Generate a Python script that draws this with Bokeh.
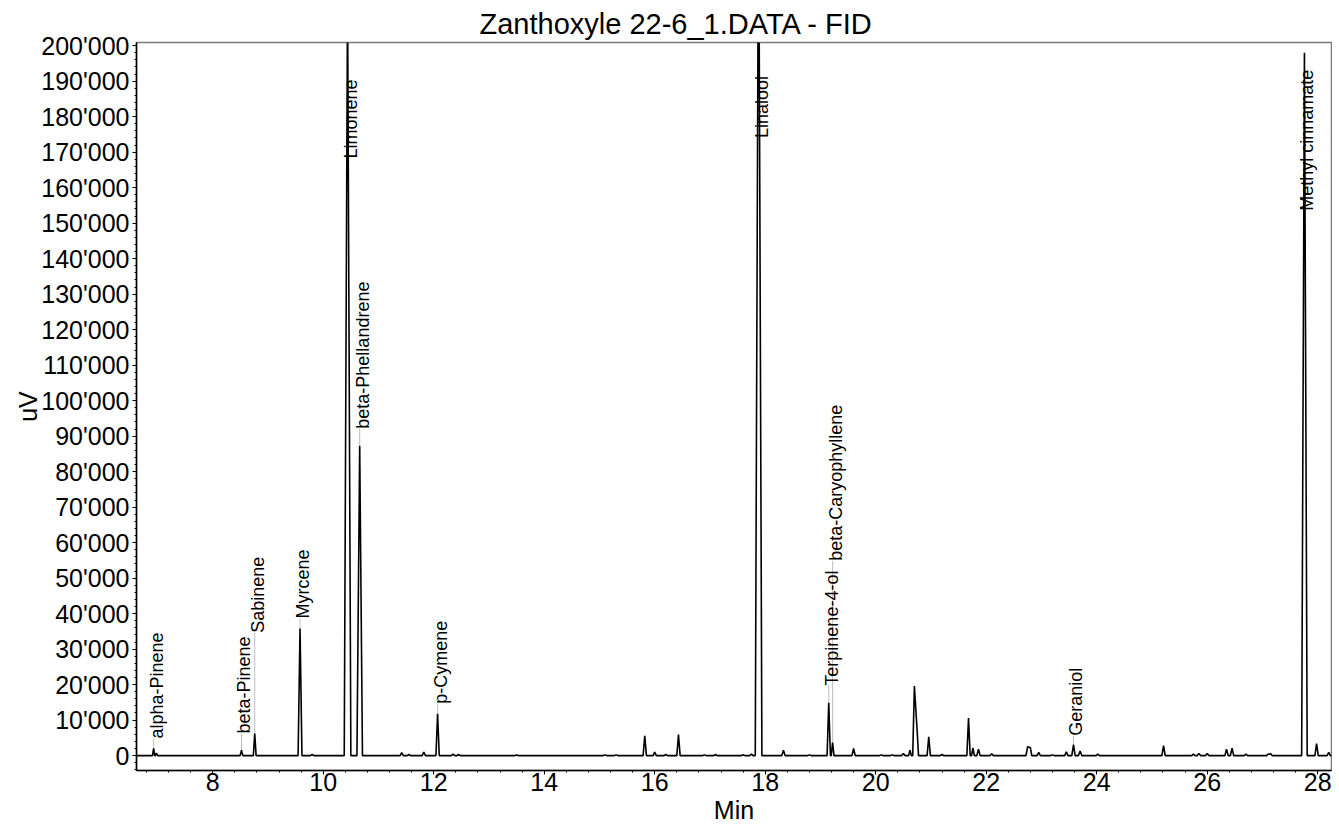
import math
from bokeh.plotting import figure
from bokeh.models import Range1d, SingleIntervalTicker, CustomJSTickFormatter, ColumnDataSource
from bokeh.core.properties import value
from bokeh.embed import file_html
from bokeh.resources import INLINE

# ---- data ----
# peak retention times (min), apex heights (uV), half base widths (min)
peak_rt = [6.93, 6.98, 8.52, 8.76, 9.58, 9.80, 10.44, 10.66, 11.42, 11.55, 11.82, 12.07,
           12.35, 12.45, 13.50, 15.10, 15.30, 15.82, 16.00, 16.20, 16.43, 16.90, 17.10,
           17.60, 17.75, 17.88, 18.33, 18.80, 19.15, 19.22, 19.60, 20.10, 20.30, 20.50,
           20.62, 20.70, 20.75, 20.96, 21.20, 21.68, 21.76, 21.86, 22.10, 22.75, 22.80,
           22.95, 23.20, 23.45, 23.58, 23.70, 24.02, 25.21, 25.75, 25.85, 26.00, 26.35,
           26.45, 26.70, 27.10, 27.15, 27.76, 27.98, 28.20]
peak_h = [2000, 700, 1500, 6200, 35800, 300, 215000, 87300, 800, 300, 1000, 11800,
          400, 300, 150, 200, 200, 5600, 1000, 300, 5900, 200, 300,
          250, 400, 250000, 1500, 200, 14900, 3700, 2000, 200, 200, 600,
          1500, 19600, 7000, 5300, 300, 10600, 2200, 1800, 500, 2500, 2200,
          900, 200, 1100, 3100, 1300, 400, 2800, 400, 600, 600, 1800,
          2100, 400, 400, 500, 198000, 3400, 900]
peak_w = [0.02, 0.02, 0.025, 0.025, 0.035, 0.03, 0.06, 0.05, 0.03, 0.03, 0.03, 0.03,
          0.03, 0.03, 0.03, 0.03, 0.03, 0.03, 0.03, 0.03, 0.03, 0.03, 0.03,
          0.03, 0.03, 0.06, 0.03, 0.03, 0.03, 0.025, 0.03, 0.03, 0.03, 0.03,
          0.025, 0.03, 0.025, 0.03, 0.03, 0.03, 0.025, 0.03, 0.03, 0.03, 0.025,
          0.03, 0.03, 0.03, 0.03, 0.03, 0.03, 0.03, 0.03, 0.03, 0.03, 0.03,
          0.03, 0.03, 0.025, 0.025, 0.05, 0.03, 0.03]

# labelled compounds
label_names = ["alpha-Pinene", "beta-Pinene", "Sabinene", "Myrcene", "Limonene",
               "beta-Phellandrene", "p-Cymene", "Linalool", "Terpinene-4-ol",
               "beta-Caryophyllene", "Geraniol", "Methyl cinnamate"]
label_rt = [6.93, 8.52, 8.76, 9.58, 10.44, 10.66, 12.07, 17.88, 19.15, 19.22, 23.58, 27.76]
label_base = [4800, 6200, 34600, 38600, 168200, 92100, 14600, 174000, 19700, 54900, 5600, 153500]
leader_lo = [2000, 1500, 6200, 35800, 193800, 87300, 11800, 193800, 14900, 3700, 3100, 193000]
leader_hi = [4800, 6200, 34600, 38600, 201000, 92100, 14600, 201000, 19700, 54900, 5600, 198000]

x_start, x_end = 6.62, 28.25
y_start, y_end = -4200, 200900

# ---- build the trace polyline from the read peaks ----
order = sorted(range(len(peak_rt)), key=lambda i: peak_rt[i])
verts = [(x_start, 0.0)]
prev_right = None
for i in order:
    rt, h, w = peak_rt[i], peak_h[i], peak_w[i]
    left, right = rt - w, rt + w
    if prev_right is not None and left <= prev_right[0]:
        verts.pop()  # shoulder: drop previous right base
    else:
        verts.append((left, 0.0))
    verts.append((rt, h))
    verts.append((right, 0.0))
    prev_right = (right, 0.0)
verts.append((x_end, 0.0))
trace_t = [v[0] for v in verts]
trace_uv = [v[1] for v in verts]

FONT = "Liberation Sans"

p = figure(width=1332, height=828, output_backend="svg", toolbar_location=None,
           x_range=Range1d(x_start, x_end), y_range=Range1d(y_start, y_end),
           title="Zanthoxyle 22-6_1.DATA - FID",
           min_border_left=136, min_border_right=1, min_border_top=42, min_border_bottom=58)

p.title.align = "left"
p.title.offset = 343
p.title.text_font = FONT
p.title.text_font_size = "29px"
p.title.text_font_style = "normal"
p.title.text_color = "black"
p.title.standoff = 5

p.outline_line_color = "#7a7a7a"
p.outline_line_width = 1.5
p.xgrid.visible = False
p.ygrid.visible = False

p.xaxis.ticker = SingleIntervalTicker(interval=2, num_minor_ticks=5)
p.yaxis.ticker = SingleIntervalTicker(interval=10000, num_minor_ticks=5)
p.yaxis.formatter = CustomJSTickFormatter(code="""
    return Math.round(tick).toString().replace(/\\B(?=(\\d{3})+(?!\\d))/g, "'");
""")
for ax in (p.xaxis[0], p.yaxis[0]):
    ax.axis_line_color = "black"
    ax.axis_line_width = 1.5
    ax.major_tick_line_color = "black"
    ax.minor_tick_line_color = "black"
    ax.major_tick_in = 0
    ax.major_tick_out = 4
    ax.minor_tick_in = 0
    ax.minor_tick_out = 2
    ax.major_label_text_font = FONT
    ax.major_label_text_font_size = "25px"
    ax.major_label_text_color = "black"
    ax.axis_label_text_font = FONT
    ax.axis_label_text_font_size = "25px"
    ax.axis_label_text_font_style = "normal"
    ax.axis_label_text_color = "black"
p.xaxis.axis_label = "Min"
p.yaxis.axis_label = "uV"
p.xaxis.major_label_standoff = -2
p.yaxis.major_label_standoff = 3
p.xaxis.axis_label_standoff = 2
p.yaxis.axis_label_standoff = -4

# leader lines
lead_src = ColumnDataSource(dict(x=label_rt, y0=leader_lo, y1=leader_hi))
p.segment(x0="x", y0="y0", x1="x", y1="y1", source=lead_src, line_color="#bdbdbd", line_width=1)

# trace
p.line(trace_t, trace_uv, line_color="black", line_width=1.6)

# labels
lab_src = ColumnDataSource(dict(x=label_rt, y=label_base, t=label_names))
p.text(x="x", y="y", text="t", source=lab_src, angle=math.pi / 2,
       text_align="left", text_baseline="middle", x_offset=3,
       text_font=value(FONT), text_font_size="18px", text_color="black")

open("out.html", "w").write(file_html(p, INLINE))
